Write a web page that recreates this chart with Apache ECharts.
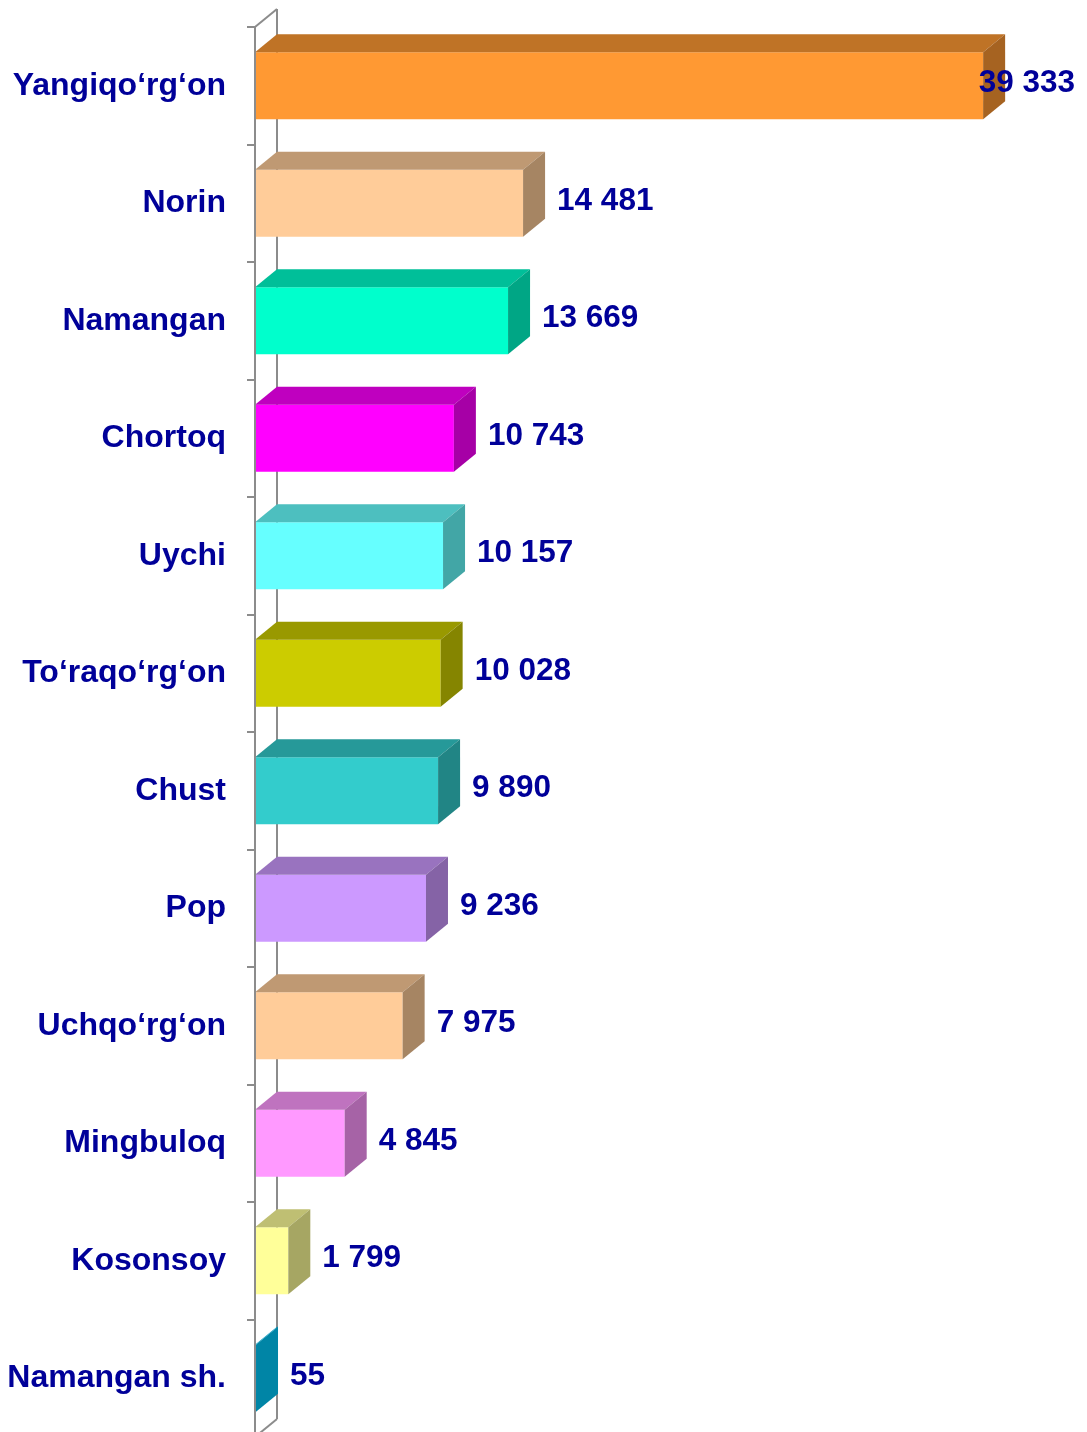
<!DOCTYPE html>
<html>
<head>
<meta charset="utf-8">
<script src="https://cdn.jsdelivr.net/npm/echarts@6/dist/echarts.min.js"></script>
<style>
html,body{margin:0;padding:0;background:#fff;}
#chart{width:1087px;height:1432px;}
</style>
</head>
<body>
<div id="chart"></div>
<script>
const categories = ['Yangiqo‘rg‘on','Norin','Namangan','Chortoq','Uychi','To‘raqo‘rg‘on','Chust','Pop','Uchqo‘rg‘on','Mingbuloq','Kosonsoy','Namangan sh.'];
const values = [39333,14481,13669,10743,10157,10028,9890,9236,7975,4845,1799,55];
const barColors = ['#FF9933','#FFCC99','#00FFCC','#FF00FF','#66FFFF','#CCCC00','#33CCCC','#CC99FF','#FFCC99','#FF99FF','#FFFF99','#00CCFF'];

const DX = 22, DY = -18;
const FONT_FAMILY = '"Liberation Sans", Arial, sans-serif';
const LABEL_SIZE = 31.5;
const CAT_SIZE = 32;
const TEXT_COLOR = '#000099';
const WALL_COLOR = '#8C8C8C';

function shade(hex, f) {
  const n = parseInt(hex.slice(1), 16);
  const r = Math.round(((n >> 16) & 255) * f);
  const g = Math.round(((n >> 8) & 255) * f);
  const b = Math.round((n & 255) * f);
  return 'rgb(' + r + ',' + g + ',' + b + ')';
}
function fmt(v) {
  return String(v).replace(/\B(?=(\d{3})+(?!\d))/g, ' ');
}
const measureCtx = document.createElement('canvas').getContext('2d');
measureCtx.font = 'bold ' + LABEL_SIZE + 'px ' + FONT_FAMILY;

const chart = echarts.init(document.getElementById('chart'));

const option = {
  backgroundColor: '#fff',
  animation: false,
  grid: { left: 255, top: 27, width: 740.5, height: 1410, containLabel: false, outerBoundsMode: 'none' },
  xAxis: { type: 'value', min: 0, max: 40000, show: false },
  yAxis: {
    type: 'category',
    data: categories,
    inverse: true,
    z: 10,
    axisLine: { show: true, lineStyle: { color: WALL_COLOR, width: 2 } },
    axisTick: { show: true, length: 8, lineStyle: { color: WALL_COLOR, width: 2 } },
    axisLabel: { margin: 29, padding: [5, 0, 0, 0], fontSize: CAT_SIZE, fontWeight: 'bold', fontFamily: FONT_FAMILY, color: TEXT_COLOR },
    splitLine: { show: false }
  },
  series: [
    {
      type: 'custom',
      z: 1,
      silent: true,
      clip: false,
      data: [[0, 0]],
      renderItem: function (params, api) {
        const cs = params.coordSys;
        const x = cs.x, y = cs.y, h = cs.height;
        const ls = { stroke: WALL_COLOR, lineWidth: 2, fill: null };
        return {
          type: 'group',
          children: [
            { type: 'line', shape: { x1: x + DX, y1: y + DY, x2: x + DX, y2: y + h + DY }, style: ls },
            { type: 'line', shape: { x1: x, y1: y, x2: x + DX, y2: y + DY }, style: ls },
            { type: 'line', shape: { x1: x, y1: y + h, x2: x + DX, y2: y + h + DY }, style: ls }
          ]
        };
      }
    },
    {
      type: 'custom',
      z: 2,
      clip: false,
      encode: { x: 0, y: 1 },
      data: values.map((v, i) => [v, i]),
      renderItem: function (params, api) {
        const v = api.value(0), idx = api.value(1);
        const c = barColors[idx];
        const p0 = api.coord([0, idx]);
        const p1 = api.coord([v, idx]);
        const band = api.size([0, 1])[1];
        const bh = band * 0.57;
        const top = p0[1] - bh / 2, bot = p0[1] + bh / 2;
        const x0 = p0[0], x1 = p1[0];
        const text = fmt(v);
        const tw = measureCtx.measureText(text).width;
        let lx = x1 + DX + 12;
        if (lx + tw > api.getWidth() - 12) lx = api.getWidth() - 12 - tw;
        return {
          type: 'group',
          children: [
            { type: 'rect', shape: { x: x0, y: top, width: Math.max(x1 - x0, 0.5), height: bh }, style: { fill: c } },
            { type: 'polygon', shape: { points: [[x0, top], [x1, top], [x1 + DX, top + DY], [x0 + DX, top + DY]] }, style: { fill: shade(c, 0.75) } },
            { type: 'polygon', shape: { points: [[x1, top], [x1 + DX, top + DY], [x1 + DX, bot + DY], [x1, bot]] }, style: { fill: shade(c, 0.65) } },
            { type: 'text', z2: 10, style: { x: lx, y: p0[1] - 2, text: text, fill: TEXT_COLOR, fontSize: LABEL_SIZE, fontWeight: 'bold', fontFamily: FONT_FAMILY, align: 'left', verticalAlign: 'middle' } }
          ]
        };
      }
    }
  ]
};
chart.setOption(option);
</script>
</body>
</html>
